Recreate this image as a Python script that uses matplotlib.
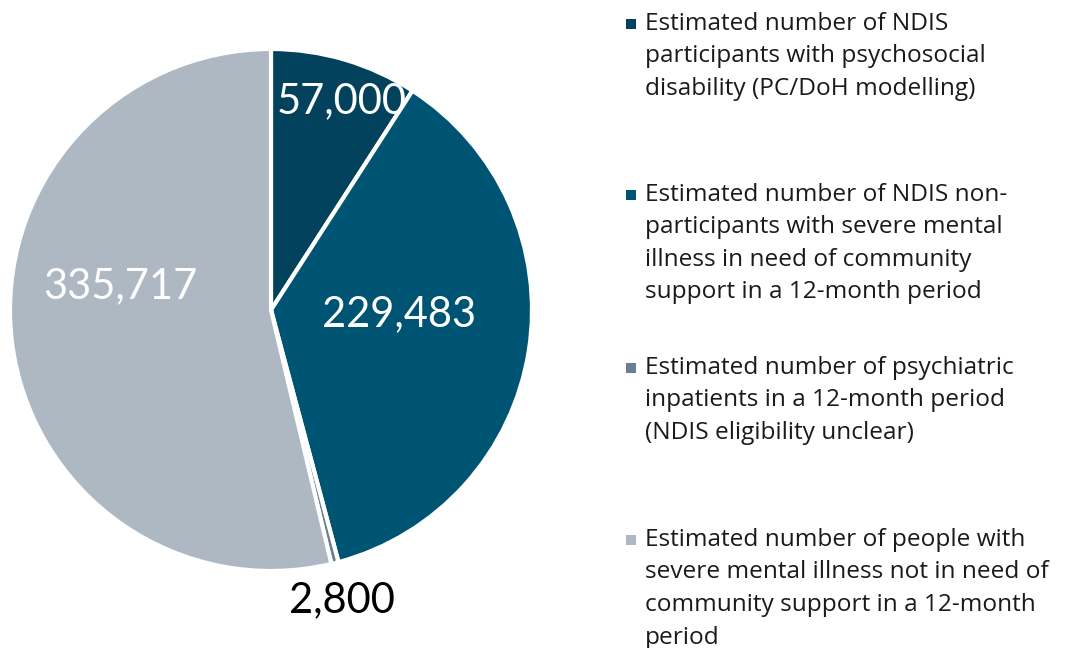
import matplotlib
matplotlib.use("Agg")
import matplotlib.pyplot as plt
from matplotlib.patches import Rectangle

values = [57000, 229483, 2800, 335717]
colors = ["#02425c", "#005473", "#6b7f93", "#adb8c3"]
label_colors = ["white", "white", "black", "white"]
label_pos = [(0.272, 0.80), (0.49, -0.015), (0.272, -1.11), (-0.579, 0.09)]
legend_labels = [
    ["Estimated number of NDIS", "participants with psychosocial", "disability (PC/DoH modelling)"],
    ["Estimated number of NDIS non-", "participants with severe mental", "illness in need of community", "support in a 12-month period"],
    ["Estimated number of psychiatric", "inpatients in a 12-month period", "(NDIS eligibility unclear)"],
    ["Estimated number of people with", "severe mental illness not in need of", "community support in a 12-month", "period"],
]
legend_top_px = [24, 195, 368, 540]

W, H = 1080, 648
fig = plt.figure(figsize=(W / 100, H / 100), dpi=100)
cx, cy, r = 271, 310, 261
ax = fig.add_axes([(cx - r) / W, (H - cy - r) / H, 2 * r / W, 2 * r / H])
ax.pie(values, colors=colors, startangle=90, counterclock=False,
       wedgeprops=dict(edgecolor="white", linewidth=3))
ax.set_xlim(-1, 1)
ax.set_ylim(-1, 1)
ax.set_aspect("equal")
ax.axis("off")

for v, (x, y), c in zip(values, label_pos, label_colors):
    ax.text(x, y, f"{v:,}", ha="center", va="center", color=c,
            fontsize=30, family="Lato", fontweight="normal", clip_on=False)

line_h = 32.5
for lines, top, col in zip(legend_labels, legend_top_px, colors):
    fig.patches.append(Rectangle(((626) / W, (H - top - 5) / H), 10 / W, 10 / H,
                                 transform=fig.transFigure, facecolor=col, edgecolor="none"))
    for i, t in enumerate(lines):
        fig.text(645 / W, (H - top - i * line_h) / H, t, ha="left", va="center",
                 fontsize=17.6, family="Open Sans", color="#1a1a1a")

fig.savefig("out.png", dpi=100, facecolor="white")
